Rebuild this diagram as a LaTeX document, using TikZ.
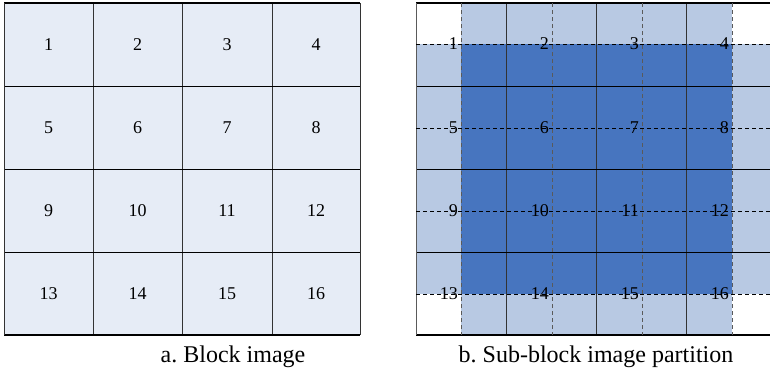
\documentclass[tikz,border=0pt]{standalone}
\usepackage{fontspec}
\setmainfont{Liberation Serif}
\frenchspacing
\definecolor{paleblock}{RGB}{230,236,246}
\definecolor{lightblock}{RGB}{184,201,227}
\definecolor{darkblock}{RGB}{71,117,191}
\definecolor{gridgrey}{RGB}{90,90,90}
\tikzset{
  numlabel/.style={inner sep=0pt, font=\fontsize{18}{21}\selectfont},
  caption/.style={inner sep=0pt, font=\fontsize{24}{28}\selectfont, anchor=base},
  gridline/.style={line width=0.9pt, black},
  innerv/.style={line width=0.8pt, black!80},
  framel/.style={line width=1.3pt, black},
  hdash/.style={line width=0.9pt, black, dash pattern=on 4pt off 3pt},
  vdash/.style={line width=0.7pt, gridgrey, dash pattern=on 4pt off 3pt},
}
\begin{document}
\begin{tikzpicture}[x=1pt,y=-1pt]
\useasboundingbox (0,0) rectangle (770,370);
\clip (0,0) rectangle (770,370);

% ---- a. block image: 4x4 grid ----
\fill[paleblock] (4,3) rectangle (360,335);
\foreach \x in {93,182,272} \draw[innerv] (\x,3) -- (\x,335);
\foreach \y in {86,169,252} \draw[gridline] (4,\y) -- (360,\y);
\draw[framel] (4,3) -- (360,3);
\draw[framel] (4,335) -- (360,335);
\draw[innerv] (4,3) -- (4,335);
\draw[innerv] (360,3) -- (360,335);
\foreach \cx [count=\c from 0] in {48.5,137.5,227,316}
  \foreach \cy [count=\r from 0] in {44.5,127.5,210.5,293.5} {
    \pgfmathtruncatemacro{\n}{4*\r+\c+1}
    \node[numlabel] (l\n) at (\cx,\cy) {\n};
  }
\node[caption] (capa) at (233,362) {a. Block image};

% ---- b. sub-block partition ----
\fill[lightblock] (461,3) rectangle (732,335);
\fill[lightblock] (416,44) rectangle (780,294);
\fill[darkblock] (461,44) rectangle (732,294);
\foreach \x in {506,596,686} \draw[innerv] (\x,3) -- (\x,335);
\foreach \y in {86,169,252} \draw[gridline] (416,\y) -- (780,\y);
\draw[framel] (416,3) -- (780,3);
\draw[framel] (416,335) -- (780,335);
\draw[line width=0.8pt, gridgrey] (416,3) -- (416,335);
\foreach \x in {461,552,642,732} \draw[vdash] (\x,3) -- (\x,335);
\foreach \y in {44,128,211,294} \draw[hdash] (416,\y) -- (780,\y);
\foreach \dx [count=\c from 0] in {461,552,642,732}
  \foreach \dy [count=\r from 0] in {44,128,211,294} {
    \pgfmathtruncatemacro{\n}{4*\r+\c+1}
    \node[numlabel, anchor=base east] (r\n) at (\dx-3,\dy+5) {\n};
  }
\node[caption] (capb) at (596,362) {b. Sub-block image partition};
\end{tikzpicture}
\end{document}
